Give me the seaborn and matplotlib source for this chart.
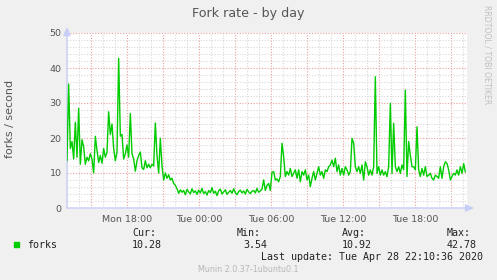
import matplotlib
matplotlib.use("Agg")
import matplotlib.pyplot as plt
import matplotlib.dates as mdates
from matplotlib.ticker import MultipleLocator, FuncFormatter
import seaborn as sns
import pandas as pd
import numpy as np

# ---------------- data ----------------
title = "Fork rate - by day"
ylabel = "forks / second"
series_name = "forks"
start_time = "2020-04-27 13:00"   # Monday
sample_step = "500s"
window_end = "2020-04-28 22:20"

forks = [
    13.5, 35.4, 17.0, 19.0, 14.0, 24.5, 14.5, 28.5, 12.5, 19.5,
    17.5, 12.5, 14.5, 13.5, 15.5, 14.0, 10.0, 20.5, 16.5, 13.0,
    15.0, 12.8, 17.0, 14.5, 16.0, 27.5, 21.0, 24.0, 17.0, 13.5,
    16.0, 42.78, 20.5, 21.0, 14.0, 15.5, 18.0, 14.5, 27.0, 15.5,
    14.0, 10.5, 13.5, 15.0, 16.0, 11.5, 11.0, 13.5, 11.5, 12.5,
    11.5, 12.5, 12.0, 24.3, 15.0, 10.0, 19.9, 12.0, 8.0, 10.0,
    8.5, 9.5, 8.0, 8.5, 7.0, 6.5, 5.5, 4.2,
    5.2, 4.5, 5.0, 3.8, 5.3, 4.6, 4.0, 5.5, 4.4, 4.9,
    3.9, 5.1, 4.3, 5.6, 4.1, 4.7, 3.7, 5.0, 4.4, 5.8,
    4.2, 4.8, 3.54, 4.9, 5.4, 4.0, 4.6, 5.2, 3.9, 4.5,
    5.0, 4.2, 5.5, 4.4, 3.8, 4.7, 5.1, 4.3, 4.9, 4.0,
    5.3, 4.6, 4.1, 4.8, 5.0, 4.3, 5.6, 4.5, 4.9, 5.4,
    8.0, 5.0, 6.5, 7.0, 5.0, 10.2,
    10.4, 8.0, 8.3, 7.5, 9.0, 18.5, 14.7, 9.0, 10.4, 9.4,
    11.3, 9.0, 9.9, 10.9, 8.5, 10.9, 7.5, 10.4, 9.4, 10.9,
    8.0, 9.4, 6.1, 8.5, 10.4, 8.0, 9.9, 11.8, 9.4, 10.4,
    8.5, 10.9, 10.4, 11.8, 12.3, 13.7, 11.8, 14.2, 10.4, 12.3,
    9.4,
    11.3, 9.4, 11.8, 10.9, 9.4, 10.4, 19.9, 18.5, 11.8, 10.4,
    11.8, 9.9, 12.3, 8.0, 13.2, 11.8, 9.4, 10.9, 9.4, 11.8,
    37.5, 9.9, 11.8, 9.4, 10.9, 9.4, 10.4, 8.95, 11.8, 29.9,
    9.9, 24.2, 11.8, 10.4, 11.8, 9.9, 12.3, 10.9,
    33.7, 9.0, 19.0, 15.0, 11.8, 11.8, 10.9, 23.2, 10.9, 9.0,
    11.3, 9.4, 11.8, 9.0, 9.4, 9.9, 8.5, 8.0, 9.4, 9.0,
    8.5, 11.8, 8.5, 11.8, 13.2, 12.7, 10.9, 8.0, 9.0, 9.9,
    9.4, 10.9, 9.4, 11.8, 9.9, 12.7, 10.28,
]
stat_names = ["Cur:", "Min:", "Avg:", "Max:"]
stat_values = ["10.28", "3.54", "10.92", "42.78"]
last_update = "Last update: Tue Apr 28 22:10:36 2020"
footer = "Munin 2.0.37-1ubuntu0.1"
side_text = "RRDTOOL / TOBI OETIKER"

times = pd.date_range(start=start_time, periods=len(forks), freq=sample_step)
df = pd.DataFrame({"time": times, "value": forks})

# ---------------- style ----------------
W, H = 497, 280
BG = "#F0F0F0"
TXT = "#555555"
LINE = "#00CC00"
AXIS = "#C8CEF6"
sns.set_style("white")
plt.rcParams["font.family"] = ["DejaVu Sans"]

fig = plt.figure(figsize=(W / 100, H / 100), dpi=100, facecolor=BG)
L, R, T, B = 67, 467, 33, 208
ax = fig.add_axes([L / W, 1 - B / H, (R - L) / W, (B - T) / H])
ax.set_facecolor("white")

sns.lineplot(data=df, x="time", y="value", ax=ax, color=LINE, linewidth=1.0,
             zorder=5)

ax.set_xlim(pd.Timestamp(start_time), pd.Timestamp(window_end))
ax.set_ylim(0, 50)

# ticks / grid
ax.xaxis.set_major_locator(mdates.HourLocator(byhour=range(0, 24, 3)))
ax.xaxis.set_minor_locator(mdates.HourLocator())


def xfmt(v, pos):
    d = mdates.num2date(v)
    if d.hour % 6 == 0:
        return d.strftime("%a %H:%M")
    return ""


ax.xaxis.set_major_formatter(FuncFormatter(xfmt))
ax.yaxis.set_major_locator(MultipleLocator(10))
ax.yaxis.set_minor_locator(MultipleLocator(2))

ax.grid(which="minor", color="#D8D8D8", linestyle=(0, (1, 1.5)), linewidth=0.8)
ax.grid(which="major", color="#E8A0A0", linestyle=(0, (1, 1.5)), linewidth=0.8)
ax.set_axisbelow(True)
ax.tick_params(which="both", length=0, labelsize=6.8, labelcolor=TXT, pad=4)
ax.tick_params(axis="x", pad=5)
for s in ax.spines.values():
    s.set_visible(False)

ax.set_xlabel("")
ax.set_ylabel("")

# axis lines with arrows
ax.annotate("", xy=(0, 1.035), xytext=(0, 0), xycoords="axes fraction",
            arrowprops=dict(arrowstyle="-|>,head_length=0.5,head_width=0.22",
                            color=AXIS, lw=1.0, shrinkA=0, shrinkB=0),
            annotation_clip=False)
ax.annotate("", xy=(1.018, 0), xytext=(0, 0), xycoords="axes fraction",
            arrowprops=dict(arrowstyle="-|>,head_length=0.5,head_width=0.22",
                            color=AXIS, lw=1.0, shrinkA=0, shrinkB=0),
            annotation_clip=False)

# texts
def fy(y):
    return 1 - y / H


fig.text(248.5 / W, fy(13), title, ha="center", va="center", fontsize=9.1,
         color=TXT)
fig.text(10.5 / W, fy(119), ylabel, ha="center", va="center", rotation=90,
         fontsize=8, color=TXT)
fig.text(487 / W, fy(5), side_text, ha="center", va="top", rotation=270,
         fontsize=5.6, color="#C0C0C0")

mono = "DejaVu Sans Mono"
fig.patches.append(plt.Rectangle((14 / W, fy(247)), 5 / W, 5 / H,
                                 transform=fig.transFigure, color=LINE,
                                 figure=fig))
fig.text(27 / W, fy(244.5), series_name, ha="left", va="center", fontsize=7.2,
         family=mono, color="#222222")
stat_x = [132, 237, 342, 447]
for name, val, sx in zip(stat_names, stat_values, stat_x):
    fig.text(sx / W, fy(233), name, ha="left", va="center", fontsize=7.2,
             family=mono, color="#222222")
    fig.text((sx + (6 if len(val) == 4 else 0)) / W, fy(244.5), val, ha="left",
             va="center", fontsize=7.2, family=mono, color="#222222")
fig.text(483 / W, fy(256.5), last_update, ha="right", va="center",
         fontsize=7.2, family=mono, color="#222222")
fig.text(248 / W, fy(269.5), footer, ha="center", va="center", fontsize=5.8,
         color="#B8B8B8")

fig.savefig("out.png", dpi=100, facecolor=BG)
